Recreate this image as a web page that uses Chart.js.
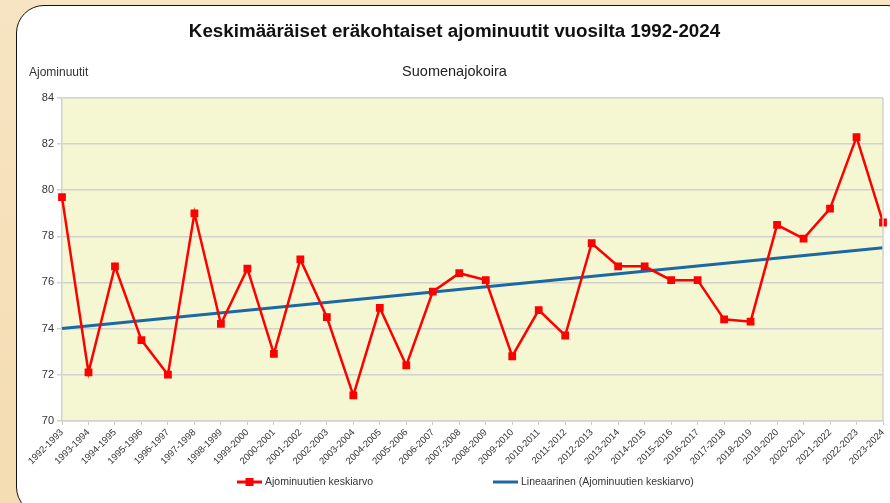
<!DOCTYPE html>
<html>
<head>
<meta charset="utf-8">
<script src="https://cdn.jsdelivr.net/npm/chart.js@4.4.1/dist/chart.umd.min.js"></script>
<style>
  html, body { margin: 0; padding: 0; }
  body {
    width: 890px; height: 503px; overflow: hidden; position: relative;
    background: linear-gradient(180deg, #f7e4c2 0%, #f4dcb2 100%);
  }
  #panel {
    position: absolute; left: 16px; top: 5px; width: 900px; height: 510px;
    background: #fff; border: 1.5px solid #111; border-radius: 28px; box-sizing: border-box;
  }
  #wrap { position: absolute; left: 0; top: 0; width: 890px; height: 503px; }
</style>
</head>
<body>
<div id="panel"></div>
<div id="wrap"><canvas id="chart"></canvas></div>
<script>
// Kaudet (x-akseli)
const seasons = [
  '1992-1993', '1993-1994', '1994-1995', '1995-1996', '1996-1997', '1997-1998',
  '1998-1999', '1999-2000', '2000-2001', '2001-2002', '2002-2003', '2003-2004',
  '2004-2005', '2005-2006', '2006-2007', '2007-2008', '2008-2009', '2009-2010',
  '2010-2011', '2011-2012', '2012-2013', '2013-2014', '2014-2015', '2015-2016',
  '2016-2017', '2017-2018', '2018-2019', '2019-2020', '2020-2021', '2021-2022',
  '2022-2023', '2023-2024'
];

// Ajominuutien keskiarvo per kausi
const avgMinutes = [
  79.7, 72.1, 76.7, 73.5, 72.0, 79.0, 74.2, 76.6, 72.9, 77.0,
  74.5, 71.1, 74.9, 72.4, 75.6, 76.4, 76.1, 72.8, 74.8, 73.7,
  77.7, 76.7, 76.7, 76.1, 76.1, 74.4, 74.3, 78.5, 77.9, 79.2,
  82.3, 78.6
];

// Lineaarinen trendi, päätepisteet luettu kuvasta
const trendStart = 74.0;
const trendEnd = 77.5;

const yTicks = [70, 72, 74, 76, 78, 80, 82, 84];

const FONT = "'Liberation Sans', Arial, sans-serif";

// plot background + frame, y-axis caption, custom legend
const decorPlugin = {
  id: 'decor',
  beforeDraw(chart) {
    const { ctx, chartArea: a } = chart;
    ctx.save();
    ctx.fillStyle = '#f5f7d3';
    ctx.fillRect(a.left, a.top, a.right - a.left, a.bottom - a.top);
    ctx.restore();
  },
  afterDraw(chart) {
    const { ctx, chartArea: a } = chart;
    ctx.save();
    ctx.strokeStyle = '#d2d2cc';
    ctx.lineWidth = 1.5;
    ctx.beginPath();
    ctx.moveTo(a.right, a.top);
    ctx.lineTo(a.right, a.bottom);
    ctx.stroke();

    ctx.fillStyle = '#333';
    ctx.font = '12px ' + FONT;
    ctx.textBaseline = 'middle';
    ctx.textAlign = 'left';
    ctx.fillText('Ajominuutit', 29, 73);

    // legend
    const ds = chart.data.datasets;
    ctx.font = '10.5px ' + FONT;
    const starts = [237, 493], lineLen = 25, textGap = 3;
    const y = 482;
    ds.forEach((d, i) => {
      const x = starts[i];
      ctx.strokeStyle = d.borderColor;
      ctx.lineWidth = 3;
      ctx.beginPath();
      ctx.moveTo(x, y);
      ctx.lineTo(x + lineLen, y);
      ctx.stroke();
      if (i === 0) {
        ctx.fillStyle = d.borderColor;
        ctx.fillRect(x + lineLen / 2 - 4, y - 4, 8, 8);
      }
      ctx.fillStyle = '#333';
      ctx.fillText(d.label, x + lineLen + textGap, y);
    });
    ctx.restore();
  }
};

new Chart(document.getElementById('chart'), {
  type: 'line',
  data: {
    labels: seasons,
    datasets: [
      {
        label: 'Ajominuutien keskiarvo',
        data: avgMinutes,
        borderColor: '#ff0000',
        backgroundColor: '#ff0000',
        borderWidth: 2.5,
        pointStyle: 'rect',
        pointRadius: 5.5,
        pointBorderWidth: 0,
        tension: 0,
        order: 0
      },
      {
        label: 'Lineaarinen (Ajominuutien keskiarvo)',
        data: [{ x: seasons[0], y: trendStart }, { x: seasons[seasons.length - 1], y: trendEnd }],
        borderColor: '#1c68a3',
        backgroundColor: '#1c68a3',
        borderWidth: 3,
        pointRadius: 0,
        order: 1
      }
    ]
  },
  options: {
    responsive: true,
    maintainAspectRatio: false,
    animation: false,
    devicePixelRatio: 1,
    layout: { padding: { top: 20.5, right: 7, bottom: 34, left: 26 } },
    plugins: {
      legend: { display: false },
      tooltip: { enabled: false },
      title: {
        display: true,
        text: 'Keskimääräiset eräkohtaiset ajominuutit vuosilta 1992-2024',
        color: '#111',
        font: { family: FONT, size: 18.8, weight: 'bold' },
        padding: { top: 0, bottom: 0 }
      },
      subtitle: {
        display: true,
        text: 'Suomenajokoira',
        color: '#222',
        font: { family: FONT, size: 14.5 },
        padding: { top: 20.2, bottom: 17.3 }
      }
    },
    scales: {
      x: {
        offset: false,
        afterFit(scale) { scale.paddingRight = 0; },
        grid: { drawOnChartArea: false, drawTicks: true, tickLength: 4, color: '#c8c8c8' },
        border: { color: '#d2d2cc', width: 1.5 },
        ticks: {
          autoSkip: false, minRotation: 45, maxRotation: 45, padding: 2,
          color: '#333', font: { family: FONT, size: 9.5 }
        }
      },
      y: {
        min: 70,
        max: 84,
        afterBuildTicks(scale) { scale.ticks = yTicks.map(v => ({ value: v })); },
        afterFit(scale) { scale.width = 36; },
        grid: { color: '#d2d2cc', lineWidth: 1.5, tickLength: 5 },
        border: { color: '#d2d2cc', width: 1.5 },
        ticks: { padding: 3, color: '#333', font: { family: FONT, size: 11 } }
      }
    }
  },
  plugins: [decorPlugin]
});
</script>
</body>
</html>
